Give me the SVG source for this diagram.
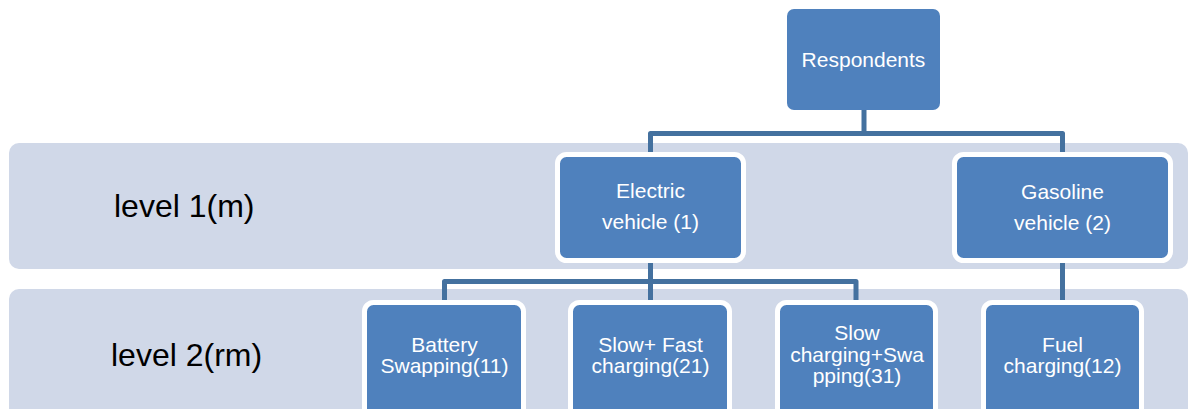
<svg xmlns="http://www.w3.org/2000/svg" width="1189" height="409" viewBox="0 0 1189 409">
<style>
.panel{fill:#D0D8E8}
.box{fill:#4F81BD;stroke:#FFFFFF;stroke-width:5}
.root{fill:#4F81BD}
.t{font-family:"Liberation Sans",Arial,sans-serif;font-size:21px;fill:#FFFFFF;text-anchor:middle}
.lvl{font-family:"Liberation Sans",Arial,sans-serif;font-size:32px;fill:#000000}
.c{fill:none;stroke:#44719F;stroke-width:5;stroke-linejoin:round}
</style>
<rect width="1189" height="409" fill="#FFFFFF"/>
<g id="panel-level1"><rect class="panel" x="9" y="143" width="1179" height="126" rx="10"/><text class="lvl" x="114" y="217">level 1(m)</text></g>
<g id="panel-level2"><rect class="panel" x="9" y="289" width="1179" height="150" rx="10"/><text class="lvl" x="111" y="366">level 2(rm)</text></g>
<g id="connectors">
<path class="c" d="M864 110 V133.5 M650.5 152 V133.5 H1062.5 V152"/>
<path class="c" d="M650.5 263 V281.5 M444.5 300 V281.5 H856 V300 M650.5 281.5 V300"/>
<path class="c" d="M1062.5 263 V300"/>
</g>
<g id="respondents"><rect class="root" x="787" y="9" width="153" height="101" rx="7"/><text class="t" x="863.5" y="67">Respondents</text></g>
<g id="electric"><rect class="box" x="557.5" y="154.5" width="186" height="106" rx="9"/><text class="t" x="650.5" y="198">Electric</text><text class="t" x="650.5" y="229">vehicle (1)</text></g>
<g id="gasoline"><rect class="box" x="954.5" y="154.5" width="216" height="106" rx="9"/><text class="t" x="1062.5" y="199">Gasoline</text><text class="t" x="1062.5" y="230">vehicle (2)</text></g>
<g id="battery"><rect class="box" x="364.5" y="302.5" width="159" height="130" rx="9"/><text class="t" x="444.5" y="352">Battery</text><text class="t" x="444.5" y="373">Swapping(11)</text></g>
<g id="slowfast"><rect class="box" x="570.5" y="302.5" width="159" height="130" rx="9"/><text class="t" x="650.5" y="352">Slow+ Fast</text><text class="t" x="650.5" y="373">charging(21)</text></g>
<g id="slowswap"><rect class="box" x="777.5" y="302.5" width="158" height="130" rx="9"/><text class="t" x="857" y="340">Slow</text><text class="t" x="857" y="361.5">charging+Swa</text><text class="t" x="857" y="383">pping(31)</text></g>
<g id="fuel"><rect class="box" x="983.5" y="302.5" width="158" height="130" rx="9"/><text class="t" x="1062.5" y="352">Fuel</text><text class="t" x="1062.5" y="373">charging(12)</text></g>
</svg>
